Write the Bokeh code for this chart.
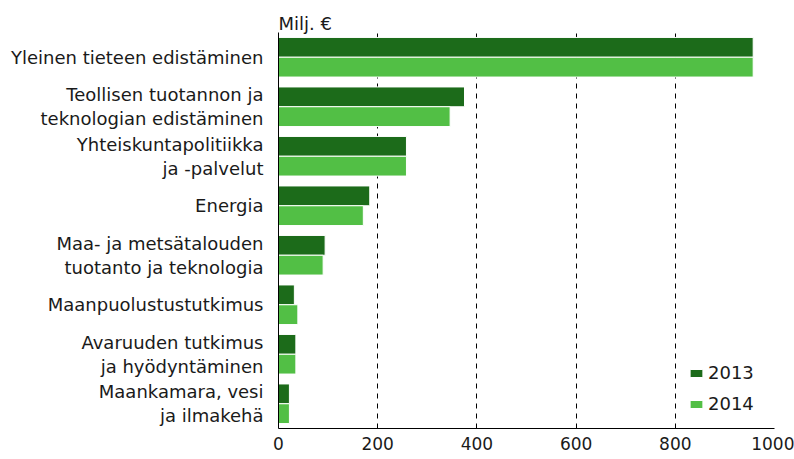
from bokeh.plotting import figure
from bokeh.models import ColumnDataSource, FactorRange, Range1d, Legend, LegendItem, FixedTicker
from bokeh.transform import dodge
from bokeh.embed import file_html
from bokeh.resources import INLINE

categories = [
    "Yleinen tieteen edistäminen",
    "Teollisen tuotannon ja\nteknologian edistäminen",
    "Yhteiskuntapolitiikka\nja -palvelut",
    "Energia",
    "Maa- ja metsätalouden\ntuotanto ja teknologia",
    "Maanpuolustustutkimus",
    "Avaruuden tutkimus\nja hyödyntäminen",
    "Maankamara, vesi\nja ilmakehä",
]
years = ["2013", "2014"]
values_2013 = [957, 375, 258, 184, 94, 32, 35, 22]
values_2014 = [957, 346, 258, 171, 90, 39, 35, 22]
x_ticks = [0, 200, 400, 600, 800, 1000]
unit_label = "Milj. €"

FONT = "DejaVu Sans"
TEXT = "#1a1a1a"
DARK = "#1C6B1A"
LIGHT = "#52BF45"

source = ColumnDataSource(dict(cat=categories, v13=values_2013, v14=values_2014))

p = figure(
    width=794, height=459,
    y_range=FactorRange(*reversed(categories)),
    x_range=Range1d(0, 1000),
    output_backend="svg", toolbar_location=None,
    min_border_left=278, min_border_right=20,
    min_border_top=32, min_border_bottom=31,
    title=unit_label,
)

r13 = p.hbar(y=dodge("cat", 0.2, range=p.y_range), right="v13", left=0, height=0.4,
             source=source, fill_color=DARK, line_color="white", line_width=1)
r14 = p.hbar(y=dodge("cat", -0.2, range=p.y_range), right="v14", left=0, height=0.4,
             source=source, fill_color=LIGHT, line_color="white", line_width=1)

p.title.text_font = FONT
p.title.text_font_size = "18px"
p.title.text_font_style = "normal"
p.title.text_color = TEXT
p.title.align = "left"
p.title.offset = 0
p.title.standoff = -2

p.outline_line_color = None
p.ygrid.grid_line_color = None
p.xgrid.grid_line_color = "black"
p.xgrid.grid_line_dash = "5 5"
p.xgrid.grid_line_width = 1
p.xgrid.level = "underlay"

p.xaxis.ticker = FixedTicker(ticks=x_ticks)
for ax in (p.xaxis, p.yaxis):
    ax.axis_line_color = "black"
    ax.axis_line_width = 1
    ax.major_tick_line_color = None
    ax.minor_tick_line_color = None
    ax.major_tick_out = 0
    ax.major_tick_in = 0
    ax.minor_tick_out = 0
    ax.minor_tick_in = 0
    ax.major_label_text_font = FONT
    ax.major_label_text_color = TEXT

p.xaxis.major_label_text_font_size = "17px"
p.xaxis.major_label_standoff = 8
p.yaxis.major_label_text_font_size = "18px"
p.yaxis.major_label_standoff = 15
p.yaxis.major_label_text_line_height = 1.12

legend = Legend(
    items=[LegendItem(label=years[0], renderers=[r13]),
           LegendItem(label=years[1], renderers=[r14])],
    location=(410, 14),
    border_line_color=None, background_fill_alpha=0,
    glyph_width=16, glyph_height=10, label_standoff=4,
    spacing=10, label_height=20, padding=0, margin=0,
    label_text_font=FONT, label_text_font_size="18px", label_text_color=TEXT,
)
p.add_layout(legend)

open("out.html", "w").write(file_html(p, INLINE))
